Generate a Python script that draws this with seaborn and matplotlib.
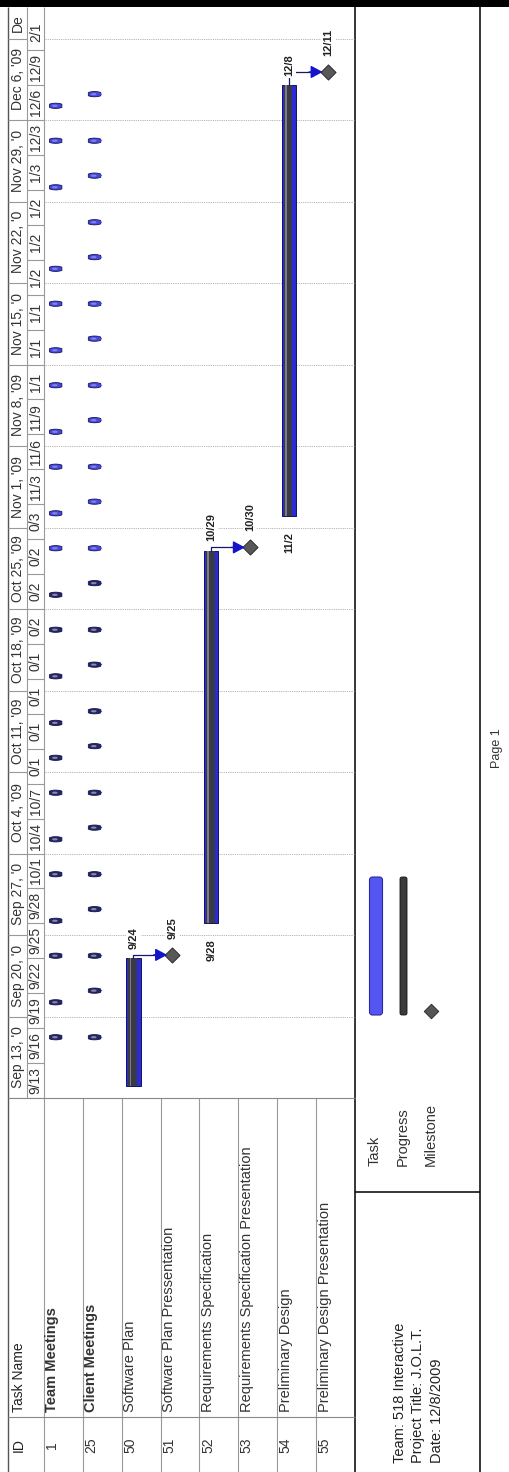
import matplotlib
matplotlib.use("Agg")
import matplotlib.pyplot as plt
from matplotlib.patches import Rectangle, FancyBboxPatch
import numpy as np
import pandas as pd
import seaborn as sns

sns.set_theme(style="white")
plt.rcParams["font.family"] = ["Liberation Sans", "DejaVu Sans"]

W, H = 510, 1472
START = pd.Timestamp("2009-09-13")

task_ids = ["1", "25", "50", "51", "52", "53", "54", "55"]
task_names = ["Team Meetings", "Client Meetings", "Software Plan",
              "Software Plan Pressentation", "Requirements Specification",
              "Requirements Specification Presentation", "Preliminary Design",
              "Preliminary Design Presentation"]
bold_tasks = ["Team Meetings", "Client Meetings"]

# recurring meetings (one small bar per meeting)
team_meetings = ["9/18", "9/21", "9/25", "9/28", "10/2", "10/5", "10/9", "10/12",
                 "10/15", "10/19", "10/23", "10/26", "10/30", "11/2", "11/6", "11/9",
                 "11/13", "11/16", "11/20", "11/23", "11/30", "12/4", "12/7"]
client_meetings = ["9/18", "9/22", "9/25", "9/29", "10/2", "10/6", "10/9", "10/13",
                   "10/16", "10/20", "10/23", "10/27", "10/30", "11/3", "11/6", "11/10",
                   "11/13", "11/17", "11/20", "11/24", "11/27", "12/1", "12/4", "12/8"]
status_date = "10/28"

# tasks
bar_rows = [2, 4, 6]
bar_starts = ["9/14", "9/28", "11/2"]
bar_ends = ["9/25", "10/30", "12/9"]
bar_start_labels = ["", "9/28", "11/2"]
bar_finish_labels = ["9/24", "10/29", "12/8"]

# milestones
ms_rows = [3, 5, 7]
ms_times = ["2009-09-25 07:00", "2009-10-30 07:00", "2009-12-10 03:00"]
ms_labels = ["9/25", "10/30", "12/11"]

# timescale
week_labels = ["Sep 13, '0", "Sep 20, '0", "Sep 27, '0", "Oct 4, '09", "Oct 11, '09",
               "Oct 18, '09", "Oct 25, '09", "Nov 1, '09", "Nov 8, '09", "Nov 15, '0",
               "Nov 22, '0", "Nov 29, '0", "Dec 6, '09", "De"]
day_labels = ["9/13", "9/16", "9/19", "9/22", "9/25", "9/28", "10/1", "10/4", "10/7",
              "0/1", "0/1", "0/1", "0/1", "0/2", "0/2", "0/2", "0/3", "11/3", "11/6",
              "11/9", "1/1", "1/1", "1/1", "1/2", "1/2", "1/2", "1/3", "12/3", "12/6",
              "12/9", "2/1"]

legend_items = ["Task", "Progress", "Milestone"]
footer_lines = ["Team: 518 Interactive", "Project Title: J.O.L.T.", "Date: 12/8/2009"]


def days(md_list):
    t = pd.to_datetime([s + "/2009" for s in md_list], format="%m/%d/%Y")
    return ((t - START) / pd.Timedelta(days=1)).to_numpy()


def days_ts(ts_list):
    t = pd.to_datetime(ts_list)
    return ((t - START) / pd.Timedelta(days=1)).to_numpy()


def rect(x0, y0, x1, y1):
    return [x0 / W, 1 - y1 / H, (x1 - x0) / W, (y1 - y0) / H]


BLUE = "#2a2ad6"
EDGE = "#12125e"
PROG = "#3a3a46"
TOP, CHART_BOTTOM = 7, 1098
X0, X1 = 44, 355
ROW_W = (X1 - X0) / len(task_names)
OFF = -0.2
y_max = (CHART_BOTTOM - TOP) / (81.5 / 7)

# flat rounded marker used for the meeting occurrences
t = np.linspace(0, 2 * np.pi, 40)
pill = np.column_stack([np.clip(1.25 * np.cos(t), -1, 1), 0.42 * np.sin(t)])

fig = plt.figure(figsize=(W / 100, H / 100), dpi=100)

# page frame
page = fig.add_axes([0, 0, 1, 1])
page.set_xlim(0, W)
page.set_ylim(H, 0)
page.axis("off")
page.add_patch(Rectangle((0, 0), W, 6.5, color="black", lw=0))
page.vlines(8, TOP, H, color="#555555", lw=1.0)
page.vlines([27], TOP, CHART_BOTTOM, color="#999999", lw=0.8)
page.vlines([X0], TOP, H, color="#999999", lw=0.8)
page.vlines([X0 + ROW_W * i for i in range(1, 8)], CHART_BOTTOM, H, color="#999999", lw=0.8)
page.vlines([X1, 480], TOP, H, color="black", lw=1.1)
page.hlines([CHART_BOTTOM, 1417], 8, X1, color="#888888", lw=0.8)
page.hlines(1192, X1, 480, color="black", lw=1.1)

# table
page.text(19, 1445, "ID", rotation=90, ha="center", va="center", fontsize=10, color="#222222")
page.text(19, 1412, "Task Name", rotation=90, ha="center", va="bottom", fontsize=10, color="#222222")
for i, (tid, name) in enumerate(zip(task_ids, task_names)):
    x = X0 + ROW_W * i + 8.5
    w = "bold" if name in bold_tasks else "normal"
    page.text(x, 1445, tid, rotation=90, ha="center", va="center", fontsize=10, color="#333333")
    page.text(x, 1412, name, rotation=90, ha="center", va="bottom", fontsize=10.5,
              fontweight=w, color="#333333")

# legend box
page.add_patch(FancyBboxPatch((369.5, 877), 13, 138, boxstyle="round,pad=0,rounding_size=3",
                              facecolor="#5555f4", edgecolor="#2a2aa0", lw=0.8))
page.add_patch(FancyBboxPatch((400, 877), 7, 138, boxstyle="round,pad=0,rounding_size=2",
                              facecolor="#3c3c3c", edgecolor="#111111", lw=0.6))
sns.scatterplot(x=[431], y=[1011], marker="D", s=55, color="#555555",
                edgecolor="#222222", linewidth=0.6, ax=page, legend=False)
for x, lab in zip([375, 403, 431], legend_items):
    page.text(x, 1166, lab, rotation=90, ha="center", va="bottom", fontsize=10.5, color="#333333")
for x, lab in zip([400, 418, 437], footer_lines):
    page.text(x, 1463, lab, rotation=90, ha="center", va="bottom", fontsize=10.5, color="#222222")
page.text(497, 748, "Page 1", rotation=90, ha="center", va="center", fontsize=9, color="#333333")

# gantt chart
ax = fig.add_axes(rect(X0, TOP, X1, CHART_BOTTOM))
ax.set_facecolor("none")
ax.set_xlim(-0.5, len(task_names) - 0.5)
ax.set_ylim(0, y_max)
week_days = np.arange(len(week_labels)) * 7
ax.set_yticks(week_days[1:])
ax.set_xticks([])
ax.yaxis.grid(True, linestyle=(0, (1, 1.2)), color="#9a9a9a", lw=0.6)
ax.tick_params(length=0, labelleft=False, labelbottom=False)
for s in ax.spines.values():
    s.set_visible(False)

status = days([status_date])[0]
for row, dates in [(0, team_meetings), (1, client_meetings)]:
    d = days(dates)
    done = d <= status
    face = np.where(done, "#26265e", "#4848d6")
    ax.scatter(np.full(len(d), row + OFF), d + 0.22, marker=pill, s=80,
               c=list(face), edgecolors=EDGE, linewidths=0.6, zorder=3)
    ax.scatter(np.full(len(d), row + OFF - 0.02), d + 0.22, marker=pill, s=14,
               c=list(np.where(done, "#8a8aa0", "#8080f0")), linewidths=0, zorder=4)
    if row == 1:
        ax.scatter(np.full(len(d), row + OFF + 0.14), d + 0.22, marker=">", s=12,
                   c=list(face), linewidths=0, zorder=4)

starts = days(bar_starts)
ends = days(bar_ends)
bx = np.array(bar_rows) + OFF
ax.bar(bx, ends - starts, bottom=starts, width=0.37, color=BLUE, edgecolor=EDGE,
       linewidth=0.7, zorder=3)
ax.bar(bx - 0.02, ends - starts, bottom=starts, width=0.22, color=PROG, linewidth=0, zorder=4)
ax.bar(bx - 0.08, ends - starts, bottom=starts, width=0.04, color="#7c7c8e", linewidth=0, zorder=5)

ms_y = days_ts(ms_times)
mx = np.array(ms_rows) + OFF
sns.scatterplot(x=mx, y=ms_y, marker="D", s=60, color="#585858", edgecolor="#202020",
                linewidth=0.6, ax=ax, zorder=6, legend=False)

lab_kw = dict(rotation=90, ha="center", fontsize=8, fontweight="bold", color="#222222",
              zorder=7, bbox=dict(facecolor="white", edgecolor="none", pad=1.5))
for i in range(len(bar_rows)):
    ax.plot([bx[i], bx[i], mx[i] - 0.45], [ends[i], ms_y[i], ms_y[i]],
            color="#16166e", lw=0.9, zorder=5)
    ax.annotate("", xy=(mx[i] - 0.13, ms_y[i]), xytext=(mx[i] - 0.48, ms_y[i]),
                arrowprops=dict(arrowstyle="-|>,head_length=0.6,head_width=0.32",
                                color="#1414c8", lw=1.0, mutation_scale=12,
                                shrinkA=0, shrinkB=0), zorder=6)
    ax.text(bx[i], ends[i] + 0.8, bar_finish_labels[i], va="bottom", **lab_kw)
    if bar_start_labels[i]:
        ax.text(bx[i], starts[i] - 1.4, bar_start_labels[i], va="top", **lab_kw)
    ax.text(mx[i], ms_y[i] + 1.4, ms_labels[i], va="bottom", **lab_kw)

# timescale header
hdr = fig.add_axes(rect(8, TOP, X0, CHART_BOTTOM), sharey=ax)
hdr.set_xlim(0, X0 - 8)
hdr.axis("off")
hdr.hlines(week_days, 0, 19, color="#999999", lw=0.8)
day_days = np.arange(len(day_labels)) * 3
hdr.hlines(day_days, 19, X0 - 8, color="#999999", lw=0.8)
for wd, lab in zip(week_days, week_labels):
    mid = min(wd + 3.5, (wd + y_max) / 2)
    hdr.text(9.8, mid, lab, rotation=90, ha="center", va="center", fontsize=10, color="#333333")
for dd, lab in zip(day_days, day_labels):
    mid = min(dd + 1.5, (dd + y_max) / 2)
    hdr.text(27.8, mid, lab, rotation=90, ha="center", va="center", fontsize=10, color="#333333")
ax.set_ylim(0, y_max)

fig.savefig("out.png", dpi=100)
